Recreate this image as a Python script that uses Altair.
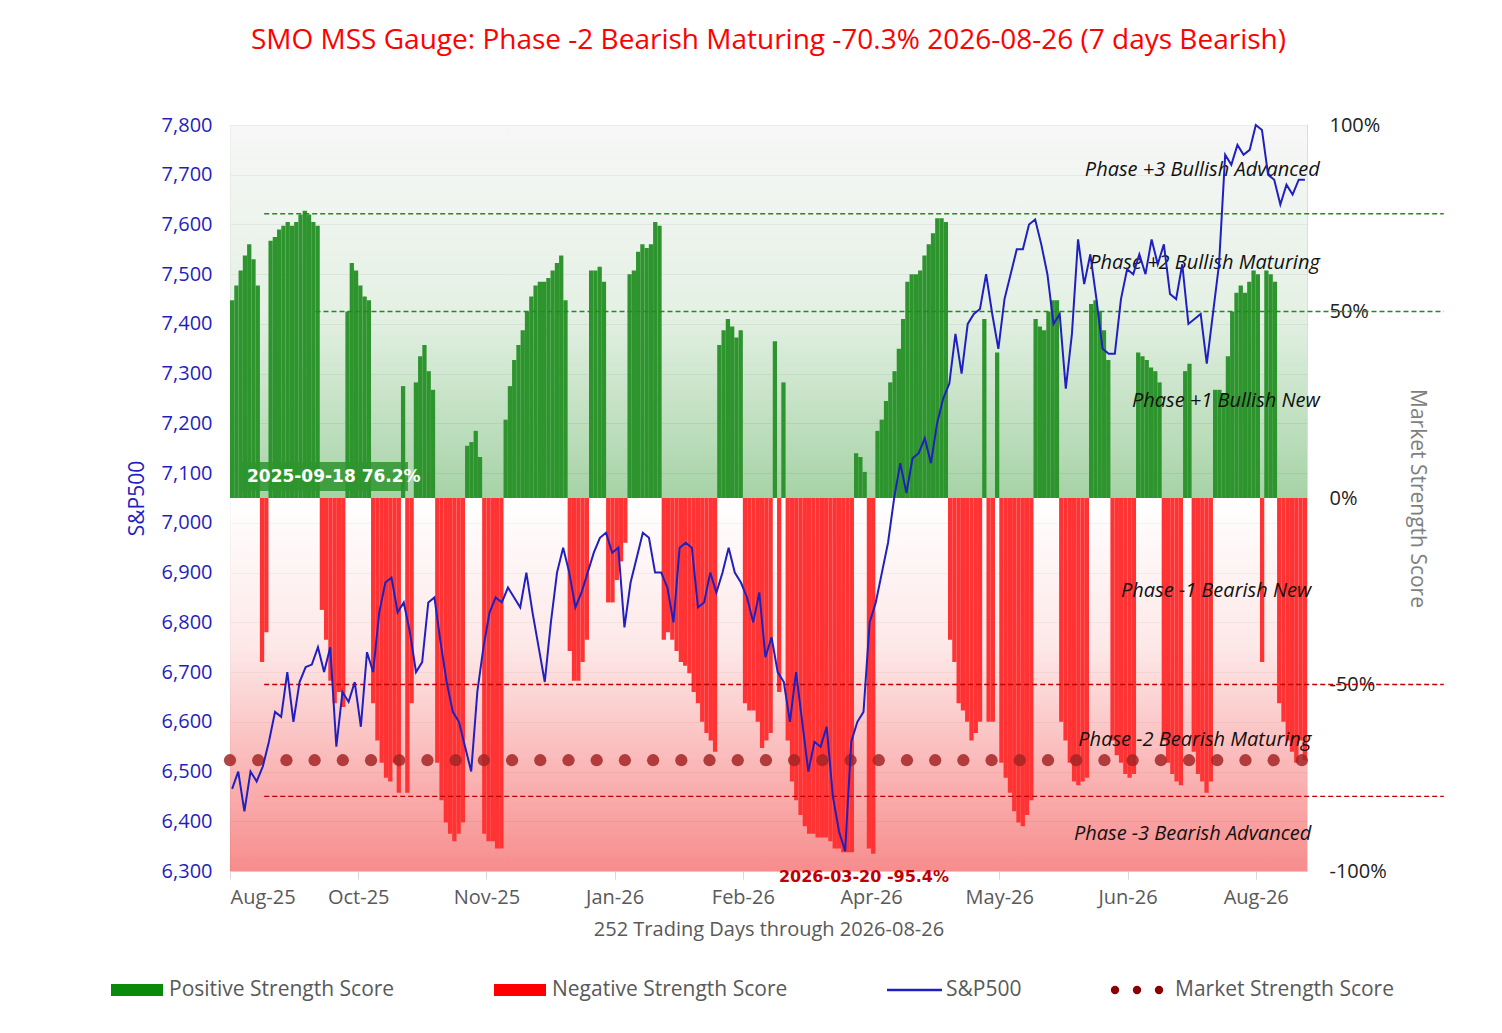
import altair as alt
import numpy as np
import pandas as pd

# daily Market Strength Score (%), 252 trading days
strength = [
    53, 57, 61, 65, 68, 64, 57,
    -44, -36,
    69, 70, 72, 73, 74, 73, 74, 76, 77, 76, 74, 73,
    -30, -38, -49, -55, -52, -56,
    50, 63, 61, 57, 54, 53,
    -55, -65, -71, -75, -76, -71, -79,
    30,
    -79, -55,
    31, 38, 41, 34, 29,
    -71, -81, -87, -90, -92, -90, -87,
    14, 15, 18, 11,
    -90, -92, -92, -94, -94,
    21, 30, 37, 41, 45, 50, 54, 57, 58, 58, 59, 61, 63, 65, 53,
    -41, -49, -49, -44, -38,
    61, 61, 62, 58,
    -28, -28, -22, -17, -12,
    60, 61, 66, 68, 67, 68, 74, 73,
    -38, -36, -38, -41, -44, -45, -47, -52, -55, -60, -63, -65, -68,
    41, 45, 48, 46, 43, 45,
    -55, -57, -57, -60, -67, -65, -63,
    42,
    -52,
    31,
    -65, -76, -81, -85, -88, -90, -90, -91, -91, -91, -92, -94, -94, -95, -95, -95,
    12, 11, 7,
    -94, -95.4,
    18, 21, 26, 31, 34, 40, 48, 58, 60, 60, 61, 65, 68, 71, 75, 75, 74,
    -38, -44, -55, -57, -60, -65, -63, -60,
    48,
    -60, -60,
    39,
    -71, -75, -79, -84, -87, -88, -85, -81,
    48, 46, 45, 50, 53, 53,
    -60, -65, -71, -76, -77, -76, -75,
    52, 53, 50, 45, 37,
    -65, -69, -71, -74, -75, -74,
    39, 38, 37, 35, 34, 31,
    -65, -71, -74, -76, -77,
    34, 36,
    -68, -74, -76, -79, -76,
    29, 29, 28, 38, 50, 55, 57, 55, 58, 61, 60,
    -44,
    61, 60, 58,
    -55, -60, -65, -68, -71, -65, -70.3,
]

spx = [
    6465, 6500, 6420, 6500, 6480, 6510, 6560, 6620, 6610, 6700, 6600, 6680, 6710, 6715,
    6750, 6700, 6750, 6550, 6660, 6640, 6680, 6590, 6740, 6700, 6820, 6880, 6890, 6820,
    6840, 6780, 6700, 6720, 6840, 6850, 6760, 6680, 6620, 6600, 6550, 6500, 6660, 6750,
    6820, 6850, 6840, 6870, 6850, 6830, 6900, 6820, 6750, 6680, 6800, 6900, 6950, 6900,
    6830, 6860, 6900, 6940, 6970, 6980, 6940, 6950, 6790, 6880, 6930, 6980, 6970, 6900,
    6900, 6870, 6800, 6950, 6960, 6950, 6830, 6840, 6900, 6860, 6900, 6950, 6900, 6880,
    6850, 6800, 6860, 6730, 6770, 6700, 6680, 6600, 6700, 6600, 6500, 6560, 6550, 6590,
    6450, 6380, 6340, 6560, 6600, 6620, 6800, 6840, 6900, 6960, 7050, 7120, 7060, 7130,
    7140, 7170, 7120, 7200, 7250, 7280, 7380, 7300, 7400, 7420, 7430, 7500, 7420, 7350,
    7450, 7500, 7550, 7550, 7600, 7610, 7560, 7500, 7400, 7420, 7270, 7380, 7570, 7480,
    7540, 7450, 7350, 7340, 7340, 7450, 7510, 7500, 7540, 7500, 7570, 7520, 7560, 7460,
    7450, 7520, 7400, 7410, 7420, 7320, 7420, 7520, 7740, 7720, 7760, 7740, 7750, 7800,
    7790, 7700, 7690, 7640, 7680, 7660, 7690, 7690,
]

month_labels = ["Aug-25", "Oct-25", "Nov-25", "Jan-26", "Feb-26", "Apr-26", "May-26", "Jun-26", "Aug-26"]
month_days = [0, 30, 60, 90, 120, 150, 180, 210, 240]

phases = ["Phase +3 Bullish Advanced", "Phase +2 Bullish Maturing", "Phase +1 Bullish New",
          "Phase -1 Bearish New", "Phase -2 Bearish Maturing", "Phase -3 Bearish Advanced"]
phase_pct = [88, 63, 26, -25, -65, -90]

current = -70.3
W, H = 1077, 746
XEND = 284

days = np.arange(len(strength))
bars = pd.DataFrame({"d": days, "d2": days + 1, "pct": strength})
bars["sign"] = np.where(bars["pct"] >= 0, "pos", "neg")
line = pd.DataFrame({"d": np.linspace(0.5, 251.5, len(spx)), "spx": spx})

xsc = alt.Scale(domain=[0, 252], nice=False, zero=False)
psc = alt.Scale(domain=[-100, 100], nice=False)
lexpr = " : ".join(f"datum.value == {d} ? '{m}'" for d, m in zip(month_days, month_labels)) + " : ''"
xaxis = alt.Axis(values=month_days, labelExpr=lexpr, labelFontSize=20, labelColor="#595959",
                 title="252 Trading Days through 2026-08-26", titleFontSize=20, titleColor="#595959",
                 titleFontWeight="normal", titlePadding=12, domain=False, grid=False,
                 tickColor="#d9d9d9", tickSize=8, labelPadding=8)

bg = pd.DataFrame({"lo": [0, -100], "hi": [100, 0], "part": ["g", "r"]})
green_bg = alt.Chart(bg[bg.part == "g"]).mark_rect(opacity=0.75, color=alt.Gradient(
    gradient="linear", x1=0, x2=0, y1=0, y2=1,
    stops=[alt.GradientStop(color="#f4f4f4", offset=0), alt.GradientStop(color="#dcecdc", offset=0.5),
           alt.GradientStop(color="#88c488", offset=1)])
).encode(x=alt.value(0), x2=alt.value(W),
         y=alt.Y("hi:Q", scale=psc, axis=None), y2="lo:Q")
red_bg = alt.Chart(bg[bg.part == "r"]).mark_rect(opacity=0.8, color=alt.Gradient(
    gradient="linear", x1=0, x2=0, y1=0, y2=1,
    stops=[alt.GradientStop(color="#ffffff", offset=0), alt.GradientStop(color="#fde2e2", offset=0.4),
           alt.GradientStop(color="#f57070", offset=1)])
).encode(x=alt.value(0), x2=alt.value(W),
         y=alt.Y("hi:Q", scale=psc, axis=None), y2="lo:Q")

bar = alt.Chart(bars).mark_rect().encode(
    x=alt.X("d:Q", scale=xsc, axis=xaxis), x2="d2:Q",
    y=alt.Y("pct:Q", scale=psc, axis=alt.Axis(
        orient="right", values=[-100, -50, 0, 50, 100], labelExpr="datum.value + '%'",
        labelFontSize=20, labelColor="#222", title="Market Strength Score", titleFontSize=21,
        titleColor="#7f7f7f", titleFontWeight="normal", titleAngle=90, titlePadding=20,
        grid=False, domain=False, ticks=False, labelPadding=22)),
    y2=alt.datum(0),
    color=alt.Color("sign:N", scale=alt.Scale(domain=["pos", "neg"], range=["#2e952e", "#ff3333"]), legend=None),
)

refs = pd.DataFrame({"a": [8, 20, 8, 8], "b": [XEND] * 4, "pct": [76.2, 50, -50, -80],
                     "c": ["g", "g", "r", "r"]})
ref_lines = alt.Chart(refs).mark_rule(strokeDash=[5, 3], strokeWidth=1.3, clip=False).encode(
    x=alt.X("a:Q", scale=xsc), x2="b:Q", y=alt.Y("pct:Q", scale=psc, axis=None),
    color=alt.Color("c:N", scale=alt.Scale(domain=["g", "r"], range=["#1e8c1e", "#c00000"]), legend=None),
)

dots = pd.DataFrame({"d": np.arange(0, 253, 6.6), "pct": current})
dot = alt.Chart(dots).mark_circle(size=150, color="#a52525", opacity=0.85).encode(
    x=alt.X("d:Q", scale=xsc), y=alt.Y("pct:Q", scale=psc, axis=None))

ph = pd.DataFrame({"t": phases, "pct": phase_pct, "d": [255, 255, 255, 253, 253, 253]})
phase_txt = alt.Chart(ph).mark_text(align="right", fontStyle="italic", fontSize=20, font="Open Sans",
                                    color="#111").encode(
    x=alt.X("d:Q", scale=xsc), y=alt.Y("pct:Q", scale=psc, axis=None), text="t:N")

hi = pd.DataFrame({"d": [4], "pct": [6], "t": ["2025-09-18  76.2%"]})
hi_box = alt.Chart(hi).mark_rect(color="#2e952e", opacity=0.85).encode(
    x=alt.value(10), x2=alt.value(178), y=alt.value(337), y2=alt.value(366))
hi_txt = alt.Chart(hi).mark_text(align="left", fontSize=17, fontWeight="bold", color="white",
                                 font="DejaVu Sans").encode(x=alt.value(17), y=alt.value(352), text="t:N")
lo = pd.DataFrame({"t": ["2026-03-20  -95.4%"]})
lo_txt = alt.Chart(lo).mark_text(fontSize=16, fontWeight="bold", color="#c00000",
                                 font="DejaVu Sans").encode(x=alt.value(634), y=alt.value(752), text="t:N")

spx_line = alt.Chart(line).mark_line(color="#2020c0", strokeWidth=2).encode(
    x=alt.X("d:Q", scale=xsc),
    y=alt.Y("spx:Q", scale=alt.Scale(domain=[6300, 7800], nice=False, zero=False), axis=alt.Axis(
        orient="left", values=list(range(6300, 7801, 100)), format=",.0f", labelFontSize=20,
        labelColor="#1f1fbf", title="S&P500", titleFontSize=21, titleColor="#1f1fbf",
        titleFontWeight="normal", titlePadding=14, grid=True, gridColor="#cfcfcf",
        domain=False, ticks=False, labelPadding=18)),
)

one = pd.DataFrame({"a": [0]})
LY = 865
leg = [
    alt.Chart(one).mark_rect(color="#0a8a0a").encode(x=alt.value(-119), x2=alt.value(-67), y=alt.value(LY - 6), y2=alt.value(LY + 6)),
    alt.Chart(one).mark_rect(color="#ff0000").encode(x=alt.value(264), x2=alt.value(316), y=alt.value(LY - 6), y2=alt.value(LY + 6)),
    alt.Chart(one).mark_rule(color="#2020c0", strokeWidth=2.5).encode(x=alt.value(657), x2=alt.value(712), y=alt.value(LY)),
    alt.Chart(pd.DataFrame({"x": [885, 907, 929]})).mark_circle(size=70, color="#8b0000", opacity=1).encode(
        x=alt.X("x:Q", scale=None), y=alt.value(LY)),
]
leg_txt = pd.DataFrame({"x": [-61, 322, 716, 945],
                        "t": ["Positive Strength Score", "Negative Strength Score", "S&P500", "Market Strength Score"]})
leg.append(alt.Chart(leg_txt).mark_text(align="left", fontSize=21, color="#595959", font="Open Sans").encode(
    x=alt.X("x:Q", scale=None), y=alt.value(LY), text="t:N"))

chart = alt.layer(
    green_bg, red_bg, bar, ref_lines, dot, phase_txt, hi_box, hi_txt, lo_txt, *leg, spx_line
).resolve_scale(y="independent", color="independent").properties(
    width=W, height=H,
    autosize=alt.AutoSizeParams(type="none"),
    padding={"left": 222, "top": 117, "right": 180, "bottom": 150},
    title=alt.Title("SMO MSS Gauge: Phase -2 Bearish Maturing -70.3% 2026-08-26 (7 days Bearish)",
                    fontSize=28, color="#ff0000", fontWeight="normal", font="Open Sans",
                    anchor="middle", offset=60),
).configure_view(stroke=None).configure(font="Open Sans")

chart.save("out.html", embed_options={"renderer": "svg", "actions": False})
